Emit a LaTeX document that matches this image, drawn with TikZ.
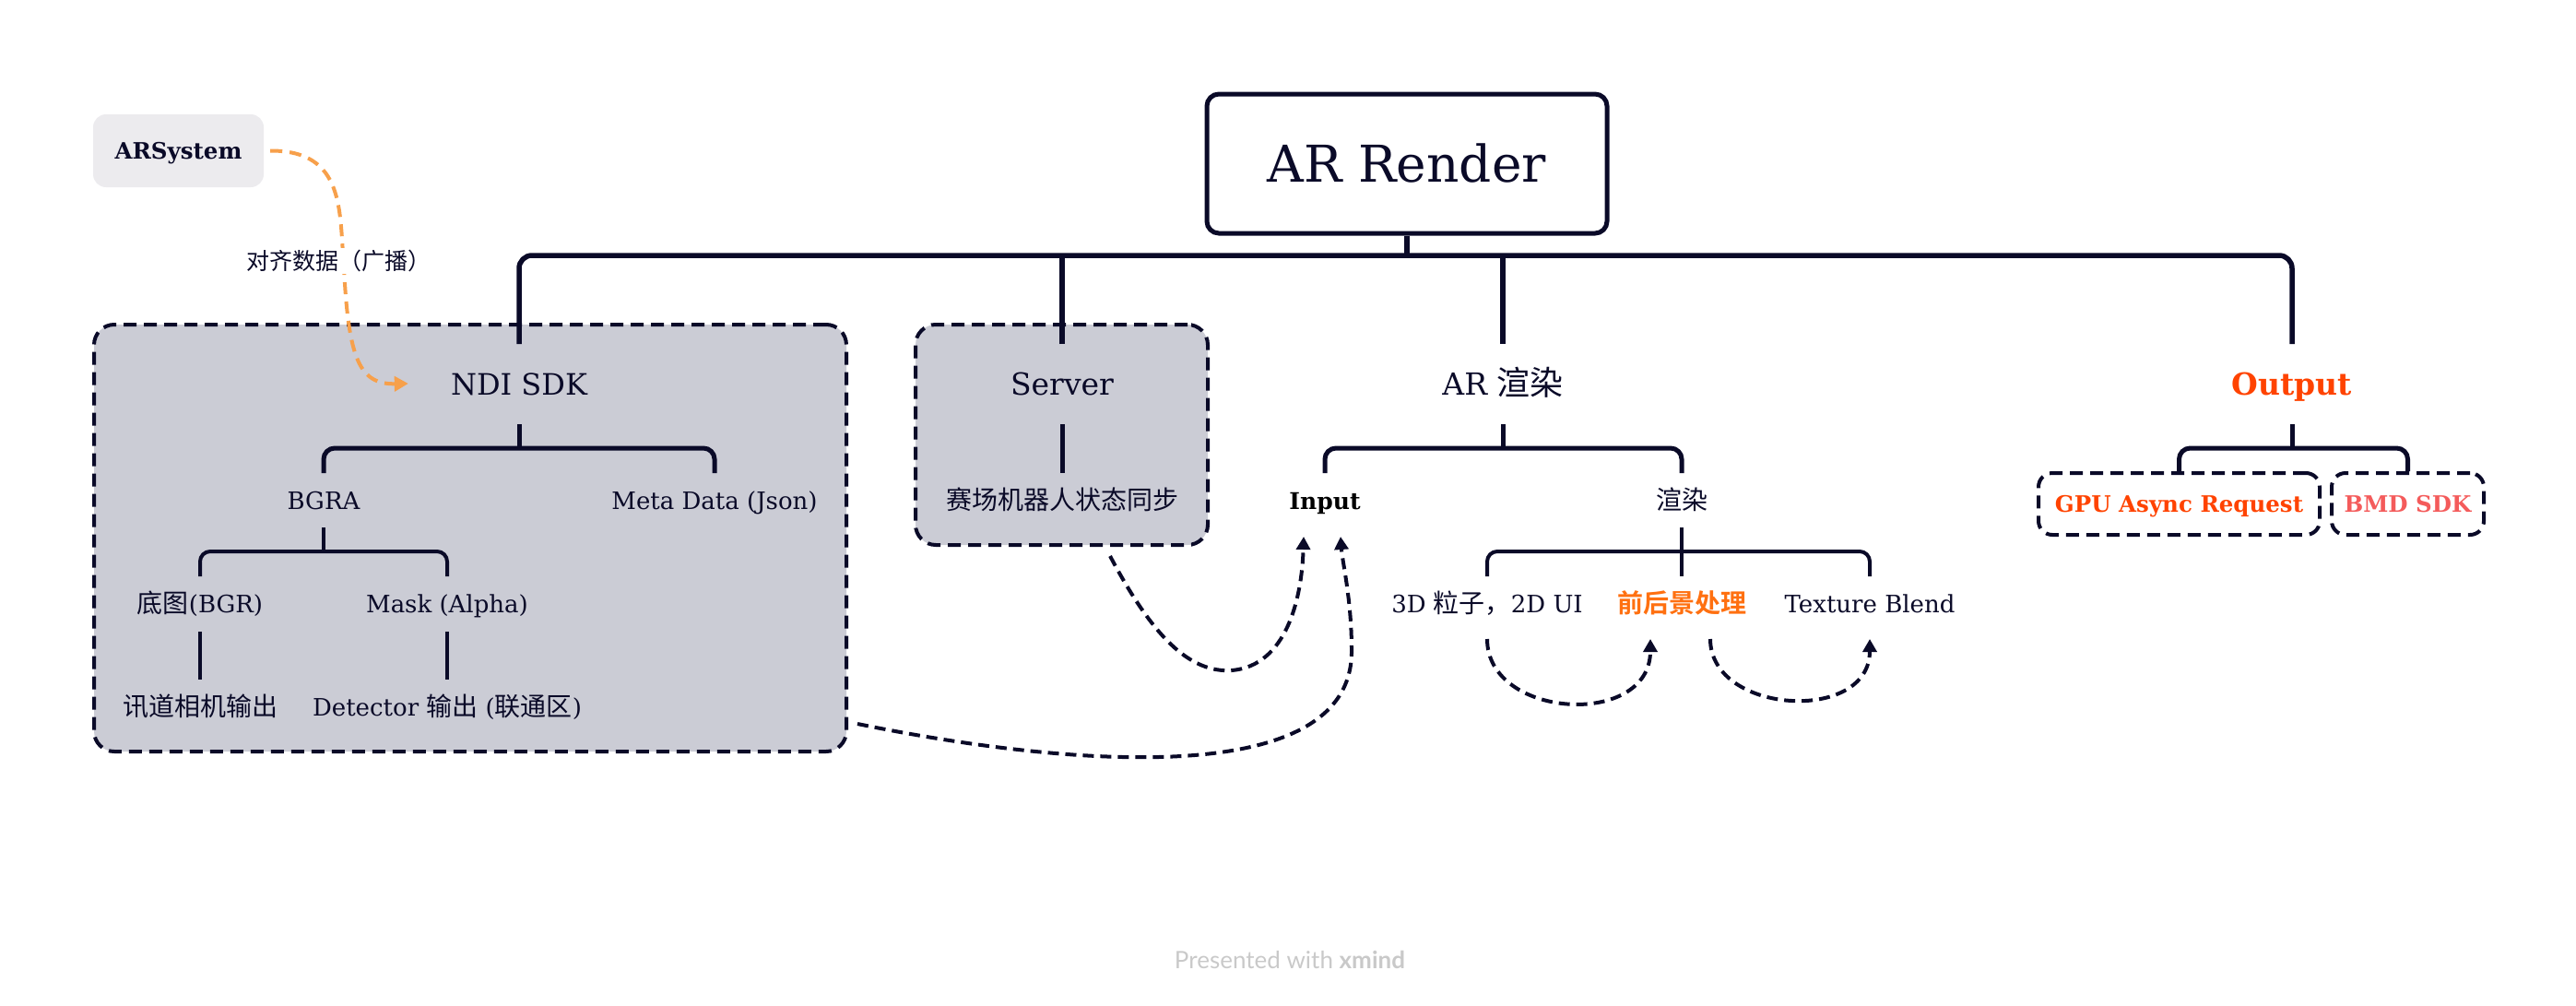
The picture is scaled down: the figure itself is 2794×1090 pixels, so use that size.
\documentclass[tikz,border=0pt]{standalone}
\usepackage{fontspec}
\setmainfont{DejaVu Serif}
\newfontfamily\cjk[BoldFont={Noto Sans CJK SC Bold}]{Noto Sans CJK SC}
\newfontfamily\wmfont{Lato}
\usetikzlibrary{arrows.meta,calc}
\definecolor{ink}{HTML}{0A0A28}
\definecolor{grp}{HTML}{CBCCD5}
\definecolor{arsfill}{HTML}{ECEBEE}
\definecolor{orarrow}{HTML}{F7A04B}
\definecolor{orbold}{HTML}{FF7010}
\definecolor{outred}{HTML}{FF4300}
\definecolor{bmdred}{HTML}{F45B5B}
\definecolor{wmgray}{HTML}{C9C9C9}
\newcommand\myfs[1]{\fontsize{#1}{#1}\selectfont}
\newcommand\zhC[1]{{\cjk\myfs{28}#1}}
\newcommand\zhB[1]{{\cjk\myfs{36}#1}}
\begin{document}
\begin{tikzpicture}[x=1pt,y=-1pt,
  arbox/.style={draw=ink, line width=5pt, rounded corners=13pt, fill=white,
    minimum width=434pt, minimum height=151pt, font=\myfs{55}, text=ink,
    text height=40pt, text depth=0pt},
  grpbox/.style={draw=ink, fill=grp, line width=4pt, dash pattern=on 14pt off 8pt,
    rounded corners=22pt},
  smbox/.style={draw=ink, line width=4pt, dash pattern=on 14pt off 8pt,
    rounded corners=15pt, minimum height=67pt, font=\bfseries\myfs{24.5},
    text height=18pt, text depth=0pt},
  arsys/.style={fill=arsfill, rounded corners=14pt, minimum width=185pt,
    minimum height=79pt, font=\bfseries\myfs{24.5}, text=ink,
    text height=18pt, text depth=0pt},
  lB/.style={font=\myfs{33}, text=ink, inner sep=0pt, text height=24pt, text depth=0pt},
  lC/.style={font=\myfs{26}, text=ink, inner sep=0pt, text height=19pt, text depth=0pt},
  l1/.style={draw=ink, line width=5.5pt, rounded corners=14pt},
  l2/.style={draw=ink, line width=5pt, rounded corners=12pt},
  l3/.style={draw=ink, line width=4pt, rounded corners=11pt},
  l4/.style={draw=ink, line width=3.5pt},
  darrow/.style={draw=ink, line width=4pt, dash pattern=on 12pt off 7pt,
    -{Triangle[length=14pt,width=15pt]}},
  oarrow/.style={draw=orarrow, line width=4pt, dash pattern=on 13pt off 8pt,
    -{Triangle[length=15pt,width=16pt]}}
]
\useasboundingbox (0,0) rectangle (2794,1090);

% group containers
\node[grpbox, minimum width=816pt, minimum height=463pt] (ndibox) at (510,583.5) {};
\node[grpbox, minimum width=317pt, minimum height=239pt] (srvbox) at (1151.5,471.5) {};

% root
\node[arbox] (arr) at (1526,177.5) {AR Render};
\node[arsys] (ars) at (193.5,163.5) {ARSystem};

% level B
\node[lB, font=\myfs{32}] (ndi) at (563,416) {NDI SDK};
\node[lB] (srv) at (1152,416) {Server};
\node[lB] (arz) at (1630,416) {AR \zhB{渲染}};
\node[lB, font=\bfseries\myfs{33}, text=outred] (outp) at (2486,416) {Output};

% level C
\node[lC] (bgra) at (351,543) {BGRA};
\node[lC] (meta) at (775,543) {Meta Data (Json)};
\node[lC] (srvsub) at (1152,543) {\zhC{赛场机器人状态同步}};
\node[lC, font=\bfseries\myfs{25}, text=black] (inp) at (1437,543) {Input};
\node[lC] (xr) at (1824,543) {\zhC{渲染}};
\node[smbox, minimum width=305pt, text=outred] (gpu) at (2363.5,546.5) {GPU Async Request};
\node[smbox, minimum width=165pt, text=bmdred] (bmd) at (2611.5,546.5) {BMD SDK};

% level D
\node[lC] (bgr) at (217,655) {\zhC{底图}(BGR)};
\node[lC] (mask) at (485,655) {Mask (Alpha)};
\node[lC] (p3d) at (1613,655) {3D \zhC{粒子，}2D UI};
\node[lC, text=orbold] (fg) at (1824,655) {{\cjk\bfseries\myfs{28}前后景处理}};
\node[lC] (tex) at (2028,655) {Texture Blend};

% level E
\node[lC] (xd) at (217,767) {\zhC{讯道相机输出}};
\node[lC] (det) at (485,767) {Detector \zhC{输出} (\zhC{联通区})};

% tree connectors
\coordinate (bar1) at (1526,277);
\draw[l1] (arr.south) -- (bar1);
\draw[l1] ($(ndi)+(0,-43)$) |- (bar1) -| ($(outp)+(0,-43)$);
\draw[l1] ($(srv)+(0,-43)$) -- (srv |- bar1);
\draw[l1] ($(arz)+(0,-43)$) -- (arz |- bar1);

\draw[l2] ($(ndi)+(0,44)$) -- ($(ndi)+(0,70)$);
\draw[l2] ($(bgra)+(0,-30)$) |- ($(ndi)+(0,70)$) -| ($(meta)+(0,-30)$);
\draw[l2] ($(srv)+(0,44)$) -- ($(srvsub)+(0,-30)$);
\draw[l2] ($(arz)+(0,44)$) -- ($(arz)+(0,70)$);
\draw[l2] ($(inp)+(0,-30)$) |- ($(arz)+(0,70)$) -| ($(xr)+(0,-30)$);
\draw[l2] ($(outp)+(0,44)$) -- ($(outp)+(0,70)$);
\draw[l2] (gpu.north) |- ($(outp)+(0,70)$) -| (bmd.north);

\draw[l3] ($(bgra)+(0,29)$) -- ($(bgra)+(0,55)$);
\draw[l3] ($(bgr)+(0,-30)$) |- ($(bgra)+(0,55)$) -| ($(mask)+(0,-30)$);
\draw[l3] ($(xr)+(0,29)$) -- ($(xr)+(0,55)$);
\draw[l3] ($(p3d)+(0,-30)$) |- ($(xr)+(0,55)$) -| ($(tex)+(0,-30)$);
\draw[l3] ($(xr)+(0,55)$) -- ($(fg)+(0,-30)$);

\draw[l4] ($(bgr)+(0,30)$) -- ($(xd)+(0,-30)$);
\draw[l4] ($(mask)+(0,30)$) -- ($(det)+(0,-30)$);

% dashed relation arrows
\draw[darrow] ($(srvbox.south east)+(-108,10)$) .. controls (1250,690) and (1290,730) .. (1336,727)
  .. controls (1395,722) and (1412,650) .. ($(inp)+(-23,39)$);
\draw[darrow] ($(ndibox.south east)+(10,-32)$) .. controls (1150,830) and (1468,860) .. (1466,705)
  .. controls (1466,650) and (1456,610) .. ($(inp)+(17,39)$);
\draw[darrow] ($(p3d)+(0,38)$) .. controls +(0,87) and +(0,97) .. ($(fg)+(-34,38)$);
\draw[darrow] ($(fg)+(31,38)$) .. controls +(0,82) and +(0,92) .. ($(tex)+(0,38)$);

% orange arrow
\draw[oarrow] ($(ars.east)+(7,0)$) .. controls (375,163) and (368,230) .. (373,290)
  .. controls (378,390) and (390,417) .. ($(ndi.west)+(-46,0)$);
\node[fill=white, inner sep=2pt, font=\cjk\myfs{25}, text=ink] (lbl) at (367,283) {对齐数据（广播）};

% watermark
\node[font=\wmfont\myfs{26}, text=wmgray] (wm) at (1399,1041) {Presented with \textbf{xmind}};
\end{tikzpicture}
\end{document}
